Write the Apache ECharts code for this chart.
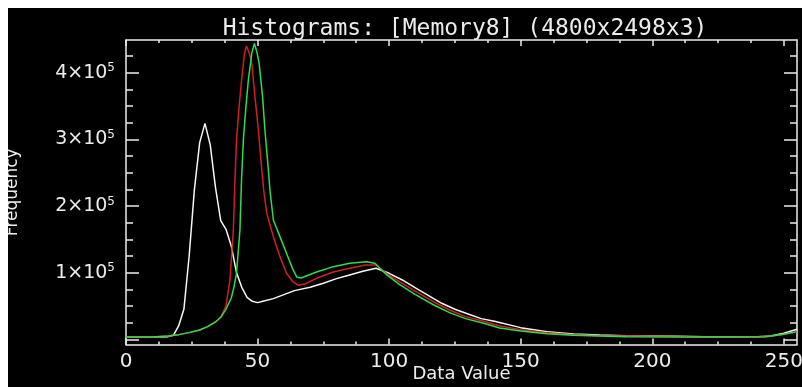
<!DOCTYPE html>
<html>
<head>
<meta charset="utf-8">
<script src="https://cdn.jsdelivr.net/npm/echarts@6/dist/echarts.min.js"></script>
<style>
  html, body { margin: 0; padding: 0; background: #000; }
  #chart { width: 802px; height: 387px; }
</style>
</head>
<body>
<div id="chart"></div>
<script>
// histogram curves, [data value, count]
const whiteCurve = [
  [0, 3500], [10, 3500], [16, 4000], [18, 6000], [20, 20000], [22, 45000], [24, 125000],
  [26, 225000], [28, 295000], [30, 324000], [32, 292000], [34, 228000], [36, 178000],
  [38, 165000], [40, 140000], [42, 100000], [44, 78000], [46, 63000], [48, 57000],
  [50, 55000], [52, 57000], [56, 61000], [60, 67000], [64, 73000], [70, 78000],
  [75, 84000], [80, 91000], [85, 96500], [90, 102000], [95, 106500], [100, 99000],
  [105, 89000], [110, 77000], [115, 65500], [120, 54000], [125, 45000], [130, 38000],
  [135, 31000], [140, 27000], [150, 17500], [160, 11500], [170, 8000], [180, 6500],
  [190, 5500], [200, 5000], [210, 4500], [220, 4000], [240, 4000], [245, 5000],
  [250, 9000], [255, 15000]
];
const redCurve = [
  [0, 3500], [10, 3500], [16, 5000], [20, 7000], [24, 10000], [28, 14000], [31, 19000],
  [34, 26000], [36, 33000], [38, 50000], [39.5, 89000], [40.8, 164000], [41.4, 239000],
  [42, 299000], [43, 350000], [44, 392000], [45, 428000], [45.8, 440000], [46.8, 430000],
  [47.8, 414000], [49, 364000], [50.3, 314000], [51.6, 254000], [52.5, 218000],
  [53.5, 189000], [55, 168000], [56, 154000], [58.5, 124000], [61, 99000], [63.5, 86000],
  [65.5, 81000], [68, 83000], [72.4, 91500], [78.8, 101000], [85, 106500], [91, 111500],
  [95, 111500], [99, 99000], [104, 86000], [110, 72000], [117, 56000], [123, 44000],
  [129, 34000], [136, 27000], [142, 20000], [150, 14500], [160, 10000], [170, 7000],
  [180, 5500], [200, 4500], [220, 3500], [240, 3500], [245, 4500], [250, 7500], [255, 11500]
];
const greenCurve = [
  [0, 3500], [10, 3500], [16, 5000], [20, 7000], [24, 10000], [28, 14000], [31, 19000],
  [34, 26000], [36, 33000], [38, 45000], [40, 62000], [41, 78000], [42, 99000],
  [43.3, 164000], [43.9, 239000], [44.6, 299000], [45.5, 345000], [46.5, 389000],
  [47.8, 429000], [48.8, 444000], [49.8, 430000], [50.6, 414000], [51.9, 364000],
  [52.8, 314000], [54.1, 254000], [54.7, 224000], [56, 179000], [58.5, 154000],
  [61, 129000], [63.5, 104000], [65, 93000], [66.5, 92000], [72.4, 101000],
  [78.8, 109000], [85, 114000], [91.4, 116500], [94.6, 114000], [96.5, 106500],
  [99, 97000], [104, 82000], [110, 67000], [117, 51500], [123, 40000], [129, 31000],
  [136, 24000], [142, 17000], [150, 12500], [160, 8500], [170, 6000], [180, 5000],
  [190, 4000], [210, 3500], [230, 3500], [243, 4000], [250, 7500], [255, 11500]
];

const xMajorTicks = [0, 50, 100, 150, 200, 250];
const xMinorTicks = [12.5, 25, 37.5, 62.5, 75, 87.5, 112.5, 125, 137.5, 162.5, 175, 187.5, 212.5, 225, 237.5];
const yMajorTicks = [0, 100000, 200000, 300000, 400000];
const yLabelValues = [100000, 200000, 300000, 400000];
const yMinorTicks = [25000, 50000, 75000, 125000, 150000, 175000, 225000, 250000, 275000, 325000, 350000, 375000, 425000];

const fg = '#ececec';
const font = 'DejaVu Sans';

function xAxisOf(pos, ticks, len, main) {
  return {
    type: 'value', position: pos, min: 0, max: 255,
    axisLine: { show: main, onZero: false, lineStyle: { color: fg, width: 1.5 } },
    axisTick: { show: true, inside: true, length: len, customValues: ticks, lineStyle: { color: fg, width: 1.5 } },
    axisLabel: { show: false },
    splitLine: { show: false }
  };
}
function yAxisOf(pos, ticks, len, main) {
  return {
    type: 'value', position: pos, min: -7800, max: 449000,
    axisLine: { show: main, onZero: false, lineStyle: { color: fg, width: 1.5 } },
    axisTick: { show: true, inside: true, length: len, customValues: ticks, lineStyle: { color: fg, width: 1.5 } },
    axisLabel: { show: false },
    splitLine: { show: false }
  };
}

let xBottom = xAxisOf('bottom', xMajorTicks, 6, true);
xBottom.axisLabel = {
  show: true, customValues: xMajorTicks, color: fg, fontFamily: font, fontSize: 20, margin: 7
};
xBottom.name = 'Data Value';
xBottom.nameLocation = 'middle';
xBottom.nameGap = 21;
xBottom.nameMoveOverlap = false;
xBottom.nameTextStyle = { color: fg, fontFamily: font, fontSize: 18 };

let yLeft = yAxisOf('left', yMajorTicks, 13, true);
yLeft.axisLabel = {
  show: true, customValues: yLabelValues, margin: 11,
  formatter: v => '{n|' + (v / 100000) + '×10}{s|5}',
  rich: {
    n: { color: fg, fontFamily: font, fontSize: 19 },
    s: { color: fg, fontFamily: font, fontSize: 12, padding: [0, 0, 9, 0] }
  }
};
yLeft.name = 'Frequency';
yLeft.nameLocation = 'middle';
yLeft.nameGap = 105;
yLeft.nameMoveOverlap = false;
yLeft.nameTextStyle = { color: fg, fontFamily: font, fontSize: 17 };

let chart = echarts.init(document.getElementById('chart'), null, { renderer: 'canvas' });
let option = {
  backgroundColor: '#000',
  animation: false,
  title: {
    text: 'Histograms: [Memory8] (4800x2498x3)',
    left: 460, top: 13, textAlign: 'center',
    textStyle: { color: fg, fontFamily: 'DejaVu Sans Mono', fontSize: 23, fontWeight: 'normal' }
  },
  grid: { left: 126, top: 40, width: 671, height: 304.5, containLabel: false, outerBoundsMode: 'none' },
  xAxis: [
    xBottom,
    xAxisOf('bottom', xMinorTicks, 3, false),
    xAxisOf('top', xMajorTicks, 6, true),
    xAxisOf('top', xMinorTicks, 3, false)
  ],
  yAxis: [
    yLeft,
    yAxisOf('left', yMinorTicks, 7, false),
    yAxisOf('right', yMajorTicks, 13, true),
    yAxisOf('right', yMinorTicks, 7, false)
  ],
  series: [
    { name: 'white', type: 'line', data: whiteCurve, showSymbol: false, lineStyle: { color: '#f6f6f6', width: 1.5 } },
    { name: 'red', type: 'line', data: redCurve, showSymbol: false, lineStyle: { color: '#d02020', width: 1.5 } },
    { name: 'green', type: 'line', data: greenCurve, showSymbol: false, lineStyle: { color: '#2edc4e', width: 1.5 } }
  ],
  graphic: [
    { type: 'rect', z: 100, shape: { x: 0, y: 0, width: 802, height: 8 }, style: { fill: '#fff' } },
    { type: 'rect', z: 100, shape: { x: 0, y: 0, width: 8, height: 387 }, style: { fill: '#fff' } }
  ]
};
chart.setOption(option);
</script>
</body>
</html>
